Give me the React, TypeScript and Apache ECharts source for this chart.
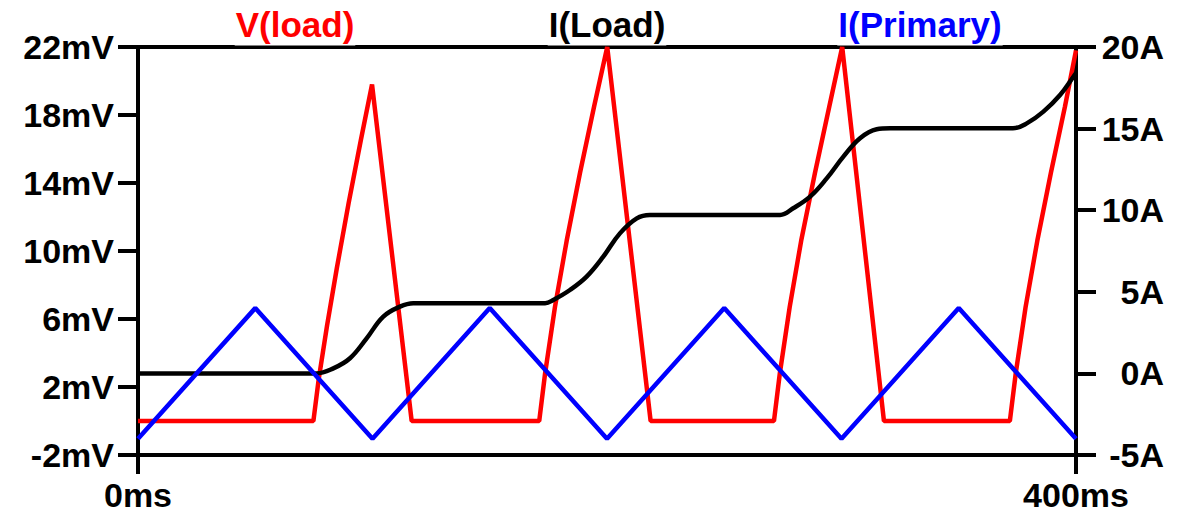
import React, { useEffect, useRef } from "react";
import * as echarts from "echarts";

// V(load) in mV vs time in ms
const vLoadTime = [0, 74.8, 77.0, 80.6, 84.8, 89.8, 95.0, 99.8, 116.7, 171.1, 173.6, 177.8, 182.8, 188.5, 194.5, 200.1, 218.6, 271.2, 273.7, 277.9, 282.8, 288.7, 294.8, 300.3, 318.1, 371.8, 374.3, 378.5, 383.5, 389.3, 395.3, 400];
const vLoadMv = [0, 0, 2.4, 5.6, 9.0, 12.8, 16.5, 19.8, 0, 0, 2.8, 6.7, 10.6, 14.6, 18.5, 22.0, 0, 0, 2.8, 6.7, 10.6, 14.6, 18.5, 22.0, 0, 0, 2.8, 6.7, 10.6, 14.6, 18.5, 21.8];

// I(Load) in A
const iLoadTime = [0, 76, 83.3, 90.4, 97.5, 104.6, 111.7, 117.4, 173.6, 177.1, 184.2, 191.3, 198.4, 205.5, 212.7, 218.3, 273.8, 279.4, 286.6, 293.7, 300.8, 307.9, 315.0, 320.7, 373.1, 379.0, 386.1, 393.2, 398.9, 400];
const iLoadA = [0, 0, 0.31, 0.93, 2.15, 3.48, 4.09, 4.3, 4.3, 4.5, 5.11, 5.93, 7.15, 8.58, 9.5, 9.71, 9.71, 10.12, 10.83, 11.95, 13.28, 14.41, 14.96, 15.02, 15.02, 15.32, 16.04, 17.06, 18.18, 18.4];

// I(Primary) in A
const iPrimaryTime = [0, 50, 100, 150, 200, 250, 300, 350, 400];
const iPrimaryA = [-4, 4, -4, 4, -4, 4, -4, 4, -4];

const leftTicks = { min: -2, max: 22, step: 4, unit: "mV" };
const rightTicks = { min: -5, max: 20, step: 5, unit: "A" };
const timeTicks = { min: 0, max: 400, step: 400, unit: "ms" };

const labels = [
  { text: "V(load)", color: "#ff0000", cx: 295 },
  { text: "I(Load)", color: "#000000", cx: 607 },
  { text: "I(Primary)", color: "#0000ff", cx: 920 },
];

const FONT = "'Liberation Sans', Arial, sans-serif";

const zip = (xs: number[], ys: number[]) => xs.map((x, i) => [x, ys[i]]);

export default function App() {
  const ref = useRef<HTMLDivElement>(null);
  useEffect(() => {
    if (!ref.current) return;
    const chart = echarts.init(ref.current, undefined, { renderer: "svg" });
    const labelStyle = { color: "#000", fontFamily: FONT, fontWeight: "bold" as const, fontSize: 34 };
    const axisLine = { show: true, onZero: false, lineStyle: { color: "#000", width: 4 } };
    const axisTick = { show: true, inside: false, length: 20, lineStyle: { color: "#000", width: 4 } };

    const graphicEls: any[] = [];
    labels.forEach((l) => {
      graphicEls.push({
        type: "text",
        x: l.cx,
        y: 24,
        z: 11,
        style: {
          text: l.text,
          fill: l.color,
          font: `bold 35px ${FONT}`,
          textAlign: "center",
          textVerticalAlign: "middle",
          backgroundColor: "#fff",
          padding: [4, 1, 4, 1],
        },
      });
    });

    chart.setOption({
      animation: false,
      backgroundColor: "#fff",
      grid: {
        left: 138,
        right: 116,
        top: 47,
        bottom: 58,
        show: true,
        borderColor: "#000",
        borderWidth: 4,
        containLabel: false,
      },
      xAxis: {
        type: "value",
        min: timeTicks.min,
        max: timeTicks.max,
        interval: timeTicks.step,
        axisLine,
        axisTick: { ...axisTick, length: 19 },
        splitLine: { show: false },
        axisLabel: { ...labelStyle, margin: 23, formatter: (v: number) => `${v}${timeTicks.unit}` },
      },
      yAxis: [
        {
          type: "value",
          position: "left",
          min: leftTicks.min,
          max: leftTicks.max,
          interval: leftTicks.step,
          axisLine,
          axisTick,
          splitLine: { show: false },
          axisLabel: { ...labelStyle, margin: 24, formatter: (v: number) => `${v}${leftTicks.unit}` },
        },
        {
          type: "value",
          position: "right",
          min: rightTicks.min,
          max: rightTicks.max,
          interval: rightTicks.step,
          axisLine,
          axisTick,
          splitLine: { show: false },
          axisLabel: { ...labelStyle, margin: 88, align: "right", formatter: (v: number) => `${v}${rightTicks.unit}` },
        },
      ],
      series: [
        {
          name: "V(load)",
          type: "line",
          yAxisIndex: 0,
          data: zip(vLoadTime, vLoadMv),
          showSymbol: false,
          lineStyle: { color: "#ff0000", width: 4.5 },
          itemStyle: { color: "#ff0000" },
          z: 2,
        },
        {
          name: "I(Load)",
          type: "line",
          yAxisIndex: 1,
          data: zip(iLoadTime, iLoadA),
          showSymbol: false,
          smooth: 0.4,
          lineStyle: { color: "#000000", width: 4.5 },
          itemStyle: { color: "#000000" },
          z: 3,
        },
        {
          name: "I(Primary)",
          type: "line",
          yAxisIndex: 1,
          data: zip(iPrimaryTime, iPrimaryA),
          showSymbol: false,
          lineStyle: { color: "#0000ff", width: 4.5 },
          itemStyle: { color: "#0000ff" },
          z: 4,
        },
      ],
      graphic: { elements: graphicEls },
    });
    return () => chart.dispose();
  }, []);
  return <div ref={ref} style={{ position: "absolute", left: 0, top: 0, width: 1192, height: 513 }} />;
}
